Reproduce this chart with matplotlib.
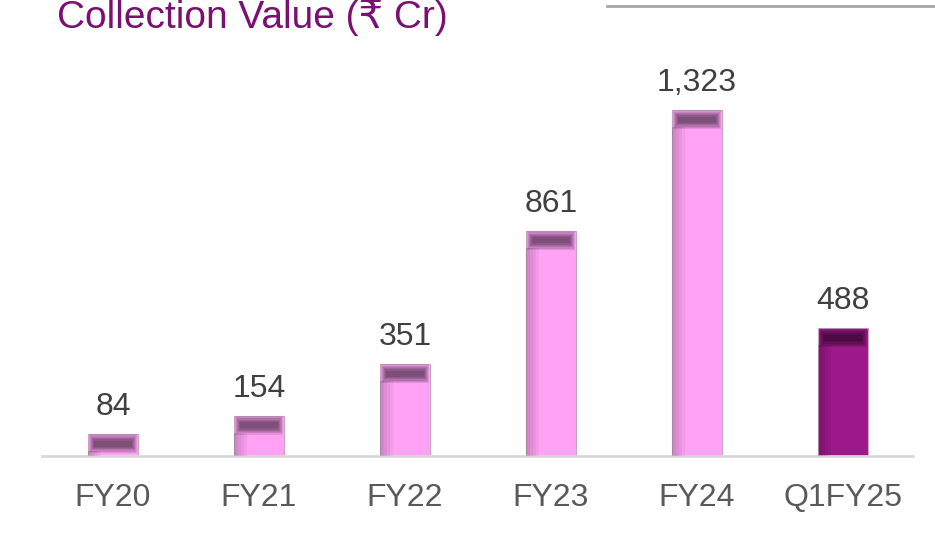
import numpy as np
import matplotlib.pyplot as plt
from matplotlib.lines import Line2D

# Données
categories = ["FY20", "FY21", "FY22", "FY23", "FY24", "Q1FY25"]
values = [84, 154, 351, 861, 1323, 488]
value_labels = ["84", "154", "351", "861", "1,323", "488"]
bar_colors = ["#FFA1F5"] * 5 + ["#9D1888"]

plt.rcParams['font.family'] = ['Liberation Sans', 'DejaVu Sans']

fig = plt.figure(figsize=(9.35, 5.49), dpi=100)
ax = fig.add_axes([42 / 935, 93 / 549, 871 / 935, 392 / 549])
xmin, xmax = -0.486, 5.48
ymax = 1500
ax.set_xlim(xmin, xmax)
ax.set_ylim(0, ymax)

x = np.arange(len(categories))
w = 0.342
vals = np.array(values, dtype=float)

# taille d'un pixel en unités de données
sx = (xmax - xmin) / 871
sy = ymax / 392

# barres principales
ax.bar(x, vals, width=w, color=bar_colors, edgecolor="#C9A3C4", linewidth=0.8, zorder=2)

# ombre floue en haut de chaque barre
for k in range(6):
    h = (19 - 2.6 * k) * sy
    ax.bar(x, h, bottom=vals - 9.5 * sy - h / 2, width=w - (2 + 2.0 * k) * sx,
           color="black", alpha=0.11, linewidth=0, zorder=3)

# ombre sur le bord gauche
for k in range(4):
    wk = (13 - 3 * k) * sx
    ax.bar(x - w / 2 + 0.5 * sx, vals - 17 * sy, width=wk, align="edge",
           color="black", alpha=0.045, linewidth=0, zorder=3)

# étiquettes de valeurs
for xi, v, lbl in zip(x, values, value_labels):
    ax.annotate(lbl, (xi, v), xytext=(0, 13.7), textcoords="offset points",
                ha="center", va="baseline", fontsize=23, color="#404040")

# axes
for s in ["top", "right", "left"]:
    ax.spines[s].set_visible(False)
ax.spines["bottom"].set_color("#D9D9D9")
ax.spines["bottom"].set_linewidth(2)
ax.set_yticks([])
ax.set_xticks(x)
ax.set_xticklabels(categories, fontsize=23, color="#595959")
ax.tick_params(axis="x", length=0, pad=19.5)

# titre et trait gris
fig.text(57 / 935, 1 - 28 / 549, "Collection Value (₹ Cr)", fontsize=28,
         color="#7B1072", va="baseline")
fig.add_artist(Line2D([607 / 935, 1], [1 - 5.5 / 549] * 2, color="#A6A6A6", lw=2))

fig.savefig("out.png", dpi=100)
